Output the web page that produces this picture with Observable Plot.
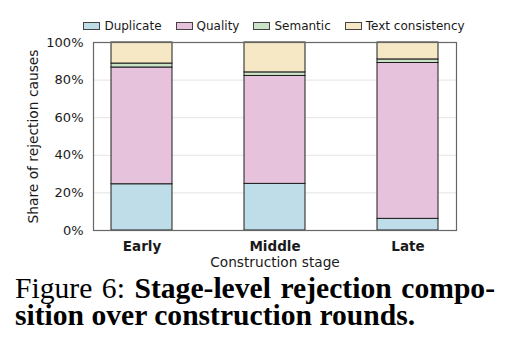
<!DOCTYPE html>
<html>
<head>
<meta charset="utf-8">
<script src="https://cdn.jsdelivr.net/npm/d3@7"></script>
<script src="https://cdn.jsdelivr.net/npm/@observablehq/plot@0.6"></script>
<style>
  html, body { margin: 0; padding: 0; background: #fff; }
  #fig { position: relative; width: 511px; height: 352px; overflow: hidden; }
  #legend {
    position: absolute; left: 74px; top: 19px; width: 400px;
    display: flex; justify-content: center; gap: 14px;
    font-family: "DejaVu Sans", sans-serif; font-size: 12px; color: #1a1a1a;
    line-height: 14px;
  }
  #legend .item { display: flex; align-items: center; gap: 4px; white-space: nowrap; }
  #legend .sw { width: 15px; height: 6px; border: 1px solid #444; }
  #chart { position: absolute; left: 0; top: 36px; }
  #caption {
    position: absolute; left: 15px; top: 275px; width: 480px;
    font-family: "Liberation Serif", "Times New Roman", serif; font-size: 29.6px;
    line-height: 27px; color: #000;
  }
  #caption .l1 { text-align: justify; text-align-last: justify; }
  #caption b { font-weight: bold; }
</style>
</head>
<body>
<div id="fig">
  <div id="legend"></div>
  <div id="chart"></div>
  <div id="caption">
    <div class="l1">Figure 6: <b>Stage-level rejection compo-</b></div>
    <div><b>sition over construction rounds.</b></div>
  </div>
</div>
<script>
// Rejection causes, bottom to top in each stacked bar
const stages = ["Early", "Middle", "Late"];
const causes = ["Duplicate", "Quality", "Semantic", "Text consistency"];
const causeColors = ["#bfdde8", "#e6c2dd", "#cbe3c6", "#f6e8c4"];

// Share (%) of each cause per stage
const duplicateShare = [24.6, 24.8, 6.2];
const qualityShare = [62.1, 57.4, 82.9];
const semanticShare = [2.1, 1.9, 1.9];
const textShare = [11.2, 15.9, 9.0];

const yTicks = [0, 20, 40, 60, 80, 100];

const seriesShares = [duplicateShare, qualityShare, semanticShare, textShare];
const rows = [];
stages.forEach((stage, i) => {
  causes.forEach((cause, j) => {
    rows.push({stage, cause, share: seriesShares[j][i]});
  });
});

// Legend above the plot
const legend = document.getElementById("legend");
causes.forEach((c, j) => {
  const item = document.createElement("div");
  item.className = "item";
  const sw = document.createElement("span");
  sw.className = "sw";
  sw.style.background = causeColors[j];
  const label = document.createElement("span");
  label.textContent = c;
  item.append(sw, label);
  legend.append(item);
});

const chart = Plot.plot({
  width: 511,
  height: 236,
  marginLeft: 93,
  marginRight: 55,
  marginTop: 6,
  marginBottom: 42,
  style: {fontFamily: "DejaVu Sans, sans-serif", fontSize: "13px", color: "#1a1a1a", background: "white"},
  x: {domain: stages, paddingInner: 0.54, paddingOuter: 0.125, label: null},
  y: {domain: [0, 100], label: null},
  color: {domain: causes, range: causeColors},
  marks: [
    Plot.gridY(yTicks.slice(1, -1), {stroke: "#e4e4e4", strokeOpacity: 1, strokeWidth: 1}),
    Plot.barY(rows, {
      x: "stage", y: "share", fill: "cause",
      order: causes,
      stroke: "#1c1c1c", strokeWidth: 1
    }),
    Plot.frame({stroke: "#666", strokeWidth: 1.2}),
    Plot.axisY({ticks: yTicks, tickFormat: d => d + "%", tickSize: 0, tickPadding: 10, label: null}),
    Plot.axisX({tickSize: 0, tickPadding: 11, fontWeight: "bold", fontSize: 13.5, label: null}),
    Plot.text(["Share of rejection causes"], {frameAnchor: "left", textAnchor: "middle", rotate: -90, dx: -60, fontSize: 13.8}),
    Plot.text(["Construction stage"], {frameAnchor: "bottom", dy: 36, fontSize: 13.7})
  ]
});
document.getElementById("chart").append(chart);
</script>
</body>
</html>
